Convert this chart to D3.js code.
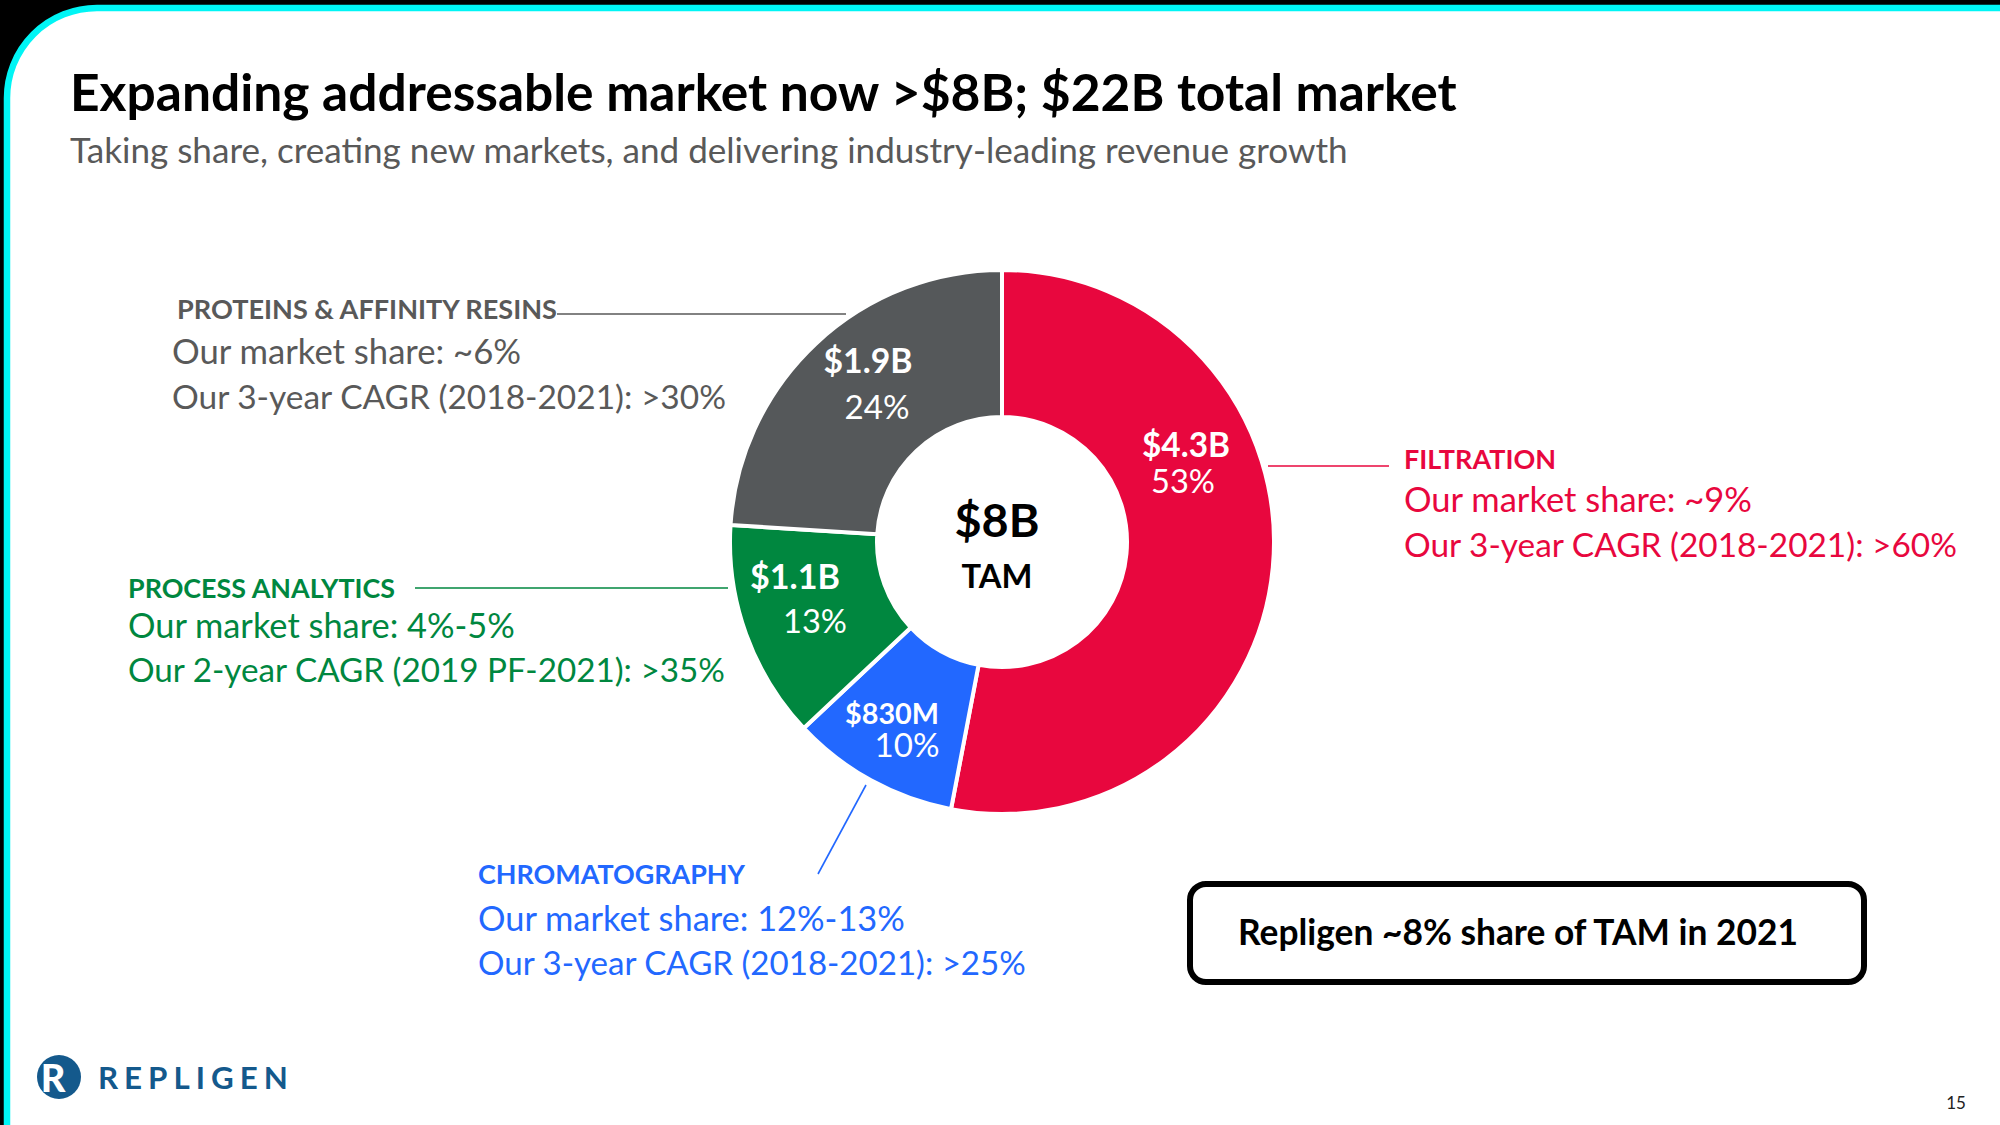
<!DOCTYPE html>
<html>
<head>
<meta charset="utf-8">
<script src="https://cdn.jsdelivr.net/npm/d3@7"></script>
<style>
  html,body{margin:0;padding:0;background:#000;}
  svg{display:block;}
  text{font-family:Lato, "Open Sans", sans-serif;}
</style>
</head>
<body>
<svg id="chart" width="2000" height="1125"></svg>
<script>
// ---------------- DATA ----------------
const categories   = ["FILTRATION", "CHROMATOGRAPHY", "PROCESS ANALYTICS", "PROTEINS & AFFINITY RESINS"];
const sharePct     = [53, 10, 13, 24];                 // % of the $8B TAM
const tamLabels    = ["$4.3B", "$830M", "$1.1B", "$1.9B"];
const marketShare  = ["~9%", "12%-13%", "4%-5%", "~6%"];
const cagrPeriods  = ["3-year CAGR (2018-2021)", "3-year CAGR (2018-2021)", "2-year CAGR (2019 PF-2021)", "3-year CAGR (2018-2021)"];
const cagrValues   = [">60%", ">25%", ">35%", ">30%"];
const totalTam     = "$8B";
const title        = "Expanding addressable market now >$8B; $22B total market";
const subtitle     = "Taking share, creating new markets, and delivering industry-leading revenue growth";
const callout      = "Repligen ~8% share of TAM in 2021";
const pageNumber   = "15";

// ---------------- STYLE / LAYOUT ----------------
const sliceColors = ["#E8073E", "#2268FF", "#00873F", "#55585A"];
const textColors  = ["#E8073E", "#2268FF", "#00873F", "#595959"];
const cx = 1002, cy = 542, rOuter = 272, rInner = 125;

// slice label positions (centre x, baseline of value line, baseline of pct line, widths)
const sliceLabelPos = [
  {x:1186, y1:457, y2:493, x2:1183, w1:88, w2:64},
  {x:892,  y1:724, y2:757, x2:907,  w1:94, w2:65},
  {x:795,  y1:589, y2:633, x2:815,  w1:90, w2:64},
  {x:868,  y1:373, y2:419, x2:877,  w1:89, w2:65}
];
// annotation blocks
const annPos = [
  {x:1404, yH:469, y1:512, y2:557, wH:152, w1:348, w2:553, line:[[1268,466],[1389,466]]},
  {x:478,  yH:884, y1:931, y2:975, wH:267, w1:427, w2:548, line:[[818,874],[866,785]]},
  {x:128,  yH:598, y1:638, y2:682, wH:267, w1:387, w2:597, line:[[415,588],[728,588]]},
  {x:177,  yH:319, y1:364, y2:409, wH:380, w1:349, w2:554, line:[[557,314],[846,314]], x1:172}
];

const svg = d3.select("#chart");

function fit(sel, w){
  const fs = parseFloat(sel.attr("font-size"));
  const m = sel.node().getComputedTextLength();
  if (m > 0) sel.attr("font-size", (fs * w / m).toFixed(2));
  return sel;
}

// ---------------- FRAME ----------------
svg.append("rect").attr("width",2000).attr("height",1125).attr("fill","#000");
const R = 90, bx = 7, by = 8;
svg.append("path")
  .attr("d", `M${bx},1140 L${bx},${by+R} A${R},${R} 0 0 1 ${bx+R},${by} L2010,${by} L2010,1140 Z`)
  .attr("fill","#fff").attr("stroke","#00F5F5").attr("stroke-width",6.5);

// ---------------- TITLES ----------------
fit(svg.append("text").attr("x",70).attr("y",111).attr("font-size",48).attr("font-weight",700)
  .attr("fill","#000").text(title), 1387);
fit(svg.append("text").attr("x",70).attr("y",163).attr("font-size",34).attr("font-weight",400)
  .attr("fill","#595959").text(subtitle), 1278);

// ---------------- DONUT ----------------
const pie = d3.pie().sort(null).value(d => d).startAngle(0).endAngle(2*Math.PI);
const arcs = pie(sharePct);
const arc = d3.arc().innerRadius(rInner).outerRadius(rOuter);
const g = svg.append("g").attr("transform",`translate(${cx},${cy})`);
g.selectAll("path.slice").data(arcs).join("path")
  .attr("class","slice")
  .attr("d", arc)
  .attr("fill", (d,i) => sliceColors[i])
  .attr("stroke","#fff").attr("stroke-width",4).attr("stroke-linejoin","miter");

// slice labels
arcs.forEach((d,i) => {
  const p = sliceLabelPos[i];
  fit(svg.append("text").attr("x",p.x).attr("y",p.y1).attr("text-anchor","middle")
    .attr("font-size",32).attr("font-weight",700).attr("fill","#fff").text(tamLabels[i]), p.w1);
  fit(svg.append("text").attr("x",p.x2).attr("y",p.y2).attr("text-anchor","middle")
    .attr("font-size",32).attr("font-weight",400).attr("fill","#fff").text(d.data + "%"), p.w2);
});

// centre
fit(svg.append("text").attr("x",997).attr("y",537).attr("text-anchor","middle")
  .attr("font-size",56).attr("font-weight",700).attr("fill","#000").text(totalTam), 85);
fit(svg.append("text").attr("x",997).attr("y",588).attr("text-anchor","middle")
  .attr("font-size",38).attr("font-weight",700).attr("fill","#000").text("TAM"), 71);

// ---------------- ANNOTATIONS ----------------
categories.forEach((c,i) => {
  const p = annPos[i], col = textColors[i];
  svg.append("line")
    .attr("x1",p.line[0][0]).attr("y1",p.line[0][1]).attr("x2",p.line[1][0]).attr("y2",p.line[1][1])
    .attr("stroke", i===3 ? "#595959" : sliceColors[i]).attr("stroke-width",1.6);
  fit(svg.append("text").attr("x",p.x).attr("y",p.yH).attr("font-size",26).attr("font-weight",700)
    .attr("fill",col).text(c), p.wH);
  fit(svg.append("text").attr("x",p.x1 || p.x).attr("y",p.y1).attr("font-size",33).attr("font-weight",400)
    .attr("fill",col).text("Our market share: " + marketShare[i]), p.w1);
  fit(svg.append("text").attr("x",p.x1 || p.x).attr("y",p.y2).attr("font-size",33).attr("font-weight",400)
    .attr("fill",col).text("Our " + cagrPeriods[i] + ": " + cagrValues[i]), p.w2);
});

// ---------------- CALLOUT BOX ----------------
svg.append("rect").attr("x",1190).attr("y",884).attr("width",674).attr("height",98)
  .attr("rx",16).attr("fill","#fff").attr("stroke","#000").attr("stroke-width",6);
fit(svg.append("text").attr("x",1238).attr("y",945).attr("font-size",34).attr("font-weight",700)
  .attr("fill","#000").text(callout), 560);

// ---------------- LOGO ----------------
const logo = svg.append("g");
logo.append("circle").attr("cx",59).attr("cy",1077).attr("r",22).attr("fill","#14598C");
logo.append("text").attr("x",53).attr("y",1092).attr("text-anchor","middle").attr("font-size",38)
  .attr("font-weight",900).attr("fill","#fff").text("R");
const lt = logo.append("text").attr("x",98).attr("y",1089).attr("font-size",30).attr("font-weight",700)
  .attr("fill","#14598C").attr("letter-spacing",6).text("REPLIGEN");
fit(lt, 198);

// page number
svg.append("text").attr("x",1956).attr("y",1109).attr("text-anchor","middle").attr("font-size",17)
  .attr("fill","#222").text(pageNumber);
</script>
</body>
</html>
